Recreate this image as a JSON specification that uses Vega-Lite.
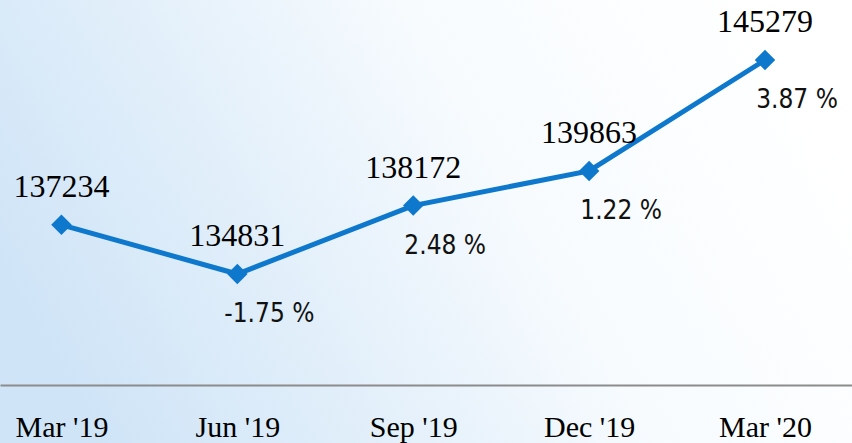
{
  "$schema": "https://vega.github.io/schema/vega-lite/v6.json",
  "width": 852,
  "height": 443,
  "autosize": {"type": "none"},
  "padding": 0,
  "background": "#ffffff",
  "config": {"view": {"stroke": null}},
  "data": {
    "values": [
      {"q": "Mar '19", "v": 137234, "pct": null},
      {"q": "Jun '19", "v": 134831, "pct": "-1.75 %"},
      {"q": "Sep '19", "v": 138172, "pct": "2.48 %"},
      {"q": "Dec '19", "v": 139863, "pct": "1.22 %"},
      {"q": "Mar '20", "v": 145279, "pct": "3.87 %"}
    ]
  },
  "layer": [
    {
      "data": {"values": [{}]},
      "mark": {
        "type": "rect",
        "color": {
          "gradient": "linear",
          "x1": 0, "y1": 0.6, "x2": 1, "y2": 0.3,
          "stops": [
            {"offset": 0, "color": "#cfe4f7"},
            {"offset": 0.3, "color": "#e2effa"},
            {"offset": 0.6, "color": "#f7fbfe"},
            {"offset": 1, "color": "#ffffff"}
          ]
        }
      },
      "encoding": {}
    },
    {
      "mark": {"type": "line", "color": "#0e78cc", "strokeWidth": 5},
      "encoding": {
        "x": {
          "field": "q", "type": "ordinal", "sort": null,
          "scale": {"type": "point", "padding": 0.422, "align": 0.414},
          "axis": {
            "title": null, "labelAngle": 0, "domainColor": "#8c8c8c", "domainWidth": 2,
            "ticks": false, "grid": false, "labelFont": "Liberation Serif", "labelFontSize": 30,
            "labelFontWeight": "normal",
            "labelColor": "#000000", "labelPadding": 27, "offset": -58, "zindex": 1
          }
        },
        "y": {
          "field": "v", "type": "quantitative",
          "scale": {"domain": [126579, 148210], "zero": false, "nice": false},
          "axis": null
        }
      }
    },
    {
      "mark": {"type": "point", "shape": "diamond", "filled": true, "size": 420, "color": "#0e78cc", "opacity": 1},
      "encoding": {
        "x": {"field": "q", "type": "ordinal", "sort": null},
        "y": {"field": "v", "type": "quantitative"}
      }
    },
    {
      "mark": {"type": "text", "font": "Liberation Serif", "fontSize": 32, "color": "#000000", "baseline": "middle", "align": "center", "dy": -38},
      "encoding": {
        "x": {"field": "q", "type": "ordinal", "sort": null},
        "y": {"field": "v", "type": "quantitative"},
        "text": {"field": "v", "type": "quantitative", "format": "d"}
      }
    },
    {
      "transform": [{"filter": "datum.pct != null"}],
      "mark": {"type": "text", "font": "DejaVu Sans Condensed", "fontSize": 26, "color": "#111111", "baseline": "middle", "align": "center", "dx": 32, "dy": 40},
      "encoding": {
        "x": {"field": "q", "type": "ordinal", "sort": null},
        "y": {"field": "v", "type": "quantitative"},
        "text": {"field": "pct", "type": "nominal"}
      }
    }
  ]
}
